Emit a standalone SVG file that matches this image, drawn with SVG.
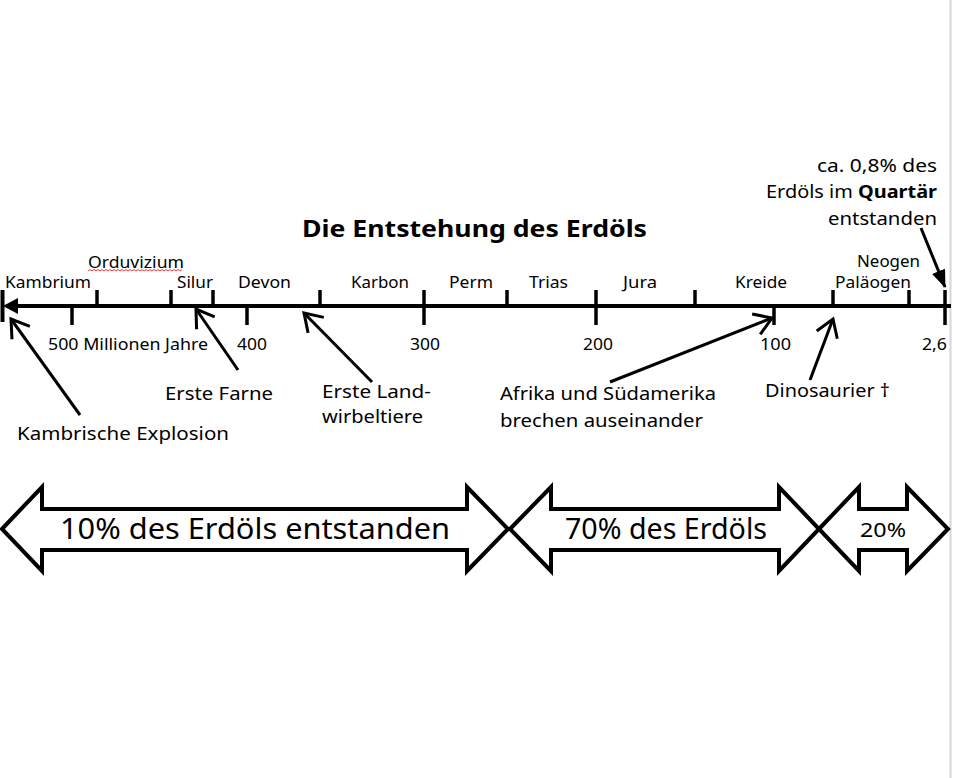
<svg xmlns="http://www.w3.org/2000/svg" width="953" height="778" viewBox="0 0 953 778">
<style>
text{font-family:"Noto Sans","Open Sans","Liberation Sans",sans-serif;fill:#000}
.era{font-size:16.5px}
.num{font-size:16.5px}
.ann{font-size:18.5px}
.title{font-size:23px;font-weight:700}
.big{font-size:29px}
.ax{stroke:#000;stroke-width:4;fill:none}
.tick{stroke:#000;stroke-width:3.5;fill:none}
.ptr{stroke:#000;stroke-width:3;fill:none}
.blk{fill:#fff;stroke:#000;stroke-width:4;stroke-linejoin:miter}
</style>
<defs>
<marker id="open" viewBox="0 0 22 26" refX="19" refY="13" markerWidth="22" markerHeight="26" markerUnits="userSpaceOnUse" orient="auto">
<path d="M2,2 L19,13 L2,24" fill="none" stroke="#000" stroke-width="3"/>
</marker>
<marker id="solid" viewBox="0 0 18 14" refX="17" refY="7" markerWidth="18" markerHeight="14" markerUnits="userSpaceOnUse" orient="auto">
<path d="M0,0 L18,7 L0,14 z" fill="#000"/>
</marker>
</defs>
<rect x="0" y="0" width="953" height="778" fill="#fff"/>
<line x1="950.5" y1="0" x2="950.5" y2="778" stroke="#d6d6da" stroke-width="2"/>

<g id="title">
<text class="title" x="302" y="237" textLength="345" lengthAdjust="spacingAndGlyphs">Die Entstehung des Erdöls</text>
</g>

<g id="timeline">
<line class="ax" x1="6" y1="306" x2="951" y2="306"/>
<line class="ax" x1="2.5" y1="290" x2="2.5" y2="322"/>
<polygon points="3,306 18,298 18,314" fill="#000"/>
<line class="tick" x1="97" y1="290" x2="97" y2="306"/>
<line class="tick" x1="171" y1="290" x2="171" y2="306"/>
<line class="tick" x1="213" y1="290" x2="213" y2="306"/>
<line class="tick" x1="320" y1="290" x2="320" y2="306"/>
<line class="tick" x1="424" y1="290" x2="424" y2="325"/>
<line class="tick" x1="507" y1="290" x2="507" y2="306"/>
<line class="tick" x1="596" y1="290" x2="596" y2="325"/>
<line class="tick" x1="695" y1="290" x2="695" y2="306"/>
<line class="tick" x1="833" y1="290" x2="833" y2="306"/>
<line class="tick" x1="909" y1="290" x2="909" y2="306"/>
<line class="tick" x1="945" y1="290" x2="945" y2="325"/>
<line class="tick" x1="72" y1="306" x2="72" y2="325"/>
<line class="tick" x1="247" y1="306" x2="247" y2="325"/>
<line class="tick" x1="774" y1="306" x2="774" y2="325"/>
</g>

<g id="eras">
<text class="era" x="88" y="268" textLength="96" lengthAdjust="spacingAndGlyphs">Orduvizium</text>
<path d="M88,271 l2,-1.5 l2,1.5 l2,-1.5 l2,1.5 l2,-1.5 l2,1.5 l2,-1.5 l2,1.5 l2,-1.5 l2,1.5 l2,-1.5 l2,1.5 l2,-1.5 l2,1.5 l2,-1.5 l2,1.5 l2,-1.5 l2,1.5 l2,-1.5 l2,1.5 l2,-1.5 l2,1.5 l2,-1.5 l2,1.5 l2,-1.5 l2,1.5 l2,-1.5 l2,1.5 l2,-1.5 l2,1.5 l2,-1.5 l2,1.5 l2,-1.5 l2,1.5 l2,-1.5 l2,1.5 l2,-1.5 l2,1.5 l2,-1.5 l2,1.5 l2,-1.5 l2,1.5 l2,-1.5 l2,1.5 l2,-1.5 l2,1.5 l2,-1.5" fill="none" stroke="#e03c3c" stroke-width="1"/>
<text class="era" x="5" y="288" textLength="86" lengthAdjust="spacingAndGlyphs">Kambrium</text>
<text class="era" x="177" y="288" textLength="36" lengthAdjust="spacingAndGlyphs">Silur</text>
<text class="era" x="238" y="288" textLength="53" lengthAdjust="spacingAndGlyphs">Devon</text>
<text class="era" x="351" y="288" textLength="58" lengthAdjust="spacingAndGlyphs">Karbon</text>
<text class="era" x="449" y="288" textLength="44" lengthAdjust="spacingAndGlyphs">Perm</text>
<text class="era" x="529" y="288" textLength="39" lengthAdjust="spacingAndGlyphs">Trias</text>
<text class="era" x="623" y="288" textLength="34" lengthAdjust="spacingAndGlyphs">Jura</text>
<text class="era" x="735" y="288" textLength="52" lengthAdjust="spacingAndGlyphs">Kreide</text>
<text class="era" x="857" y="267" textLength="63" lengthAdjust="spacingAndGlyphs">Neogen</text>
<text class="era" x="835" y="288" textLength="76" lengthAdjust="spacingAndGlyphs">Paläogen</text>
</g>

<g id="numbers">
<text class="num" x="48" y="350" textLength="160" lengthAdjust="spacingAndGlyphs">500 Millionen Jahre</text>
<text class="num" x="237" y="350" textLength="30" lengthAdjust="spacingAndGlyphs">400</text>
<text class="num" x="410" y="350" textLength="30" lengthAdjust="spacingAndGlyphs">300</text>
<text class="num" x="583" y="350" textLength="30" lengthAdjust="spacingAndGlyphs">200</text>
<text class="num" x="760" y="350" textLength="31" lengthAdjust="spacingAndGlyphs">100</text>
<text class="num" x="922" y="350" textLength="25" lengthAdjust="spacingAndGlyphs">2,6</text>
</g>

<g id="connectors">
<line class="ptr" x1="80" y1="415" x2="11" y2="319" marker-end="url(#open)"/>
<line class="ptr" x1="238" y1="370" x2="196" y2="309" marker-end="url(#open)"/>
<line class="ptr" x1="372" y1="382" x2="304" y2="313" marker-end="url(#open)"/>
<line class="ptr" x1="610" y1="382" x2="772" y2="318" marker-end="url(#open)"/>
<line class="ptr" x1="810" y1="380" x2="833" y2="319" marker-end="url(#open)"/>
<line class="ptr" x1="921" y1="228" x2="945" y2="287" marker-end="url(#solid)"/>
</g>

<g id="ann-kambrische">
<text class="ann" x="17" y="440" textLength="212" lengthAdjust="spacingAndGlyphs">Kambrische Explosion</text>
</g>
<g id="ann-farne">
<text class="ann" x="165" y="400" textLength="108" lengthAdjust="spacingAndGlyphs">Erste Farne</text>
</g>
<g id="ann-landwirbeltiere">
<text class="ann" x="322" y="398" textLength="109" lengthAdjust="spacingAndGlyphs">Erste Land-</text>
<text class="ann" x="322" y="423" textLength="101" lengthAdjust="spacingAndGlyphs">wirbeltiere</text>
</g>
<g id="ann-afrika">
<text class="ann" x="500" y="400" textLength="216" lengthAdjust="spacingAndGlyphs">Afrika und Südamerika</text>
<text class="ann" x="500" y="427" textLength="203" lengthAdjust="spacingAndGlyphs">brechen auseinander</text>
</g>
<g id="ann-dino">
<text class="ann" x="765" y="397" textLength="125" lengthAdjust="spacingAndGlyphs">Dinosaurier †</text>
</g>
<g id="ann-quartaer">
<text class="ann" x="817" y="172" textLength="120" lengthAdjust="spacingAndGlyphs">ca. 0,8% des</text>
<text class="ann" x="766" y="198" textLength="171" lengthAdjust="spacingAndGlyphs">Erdöls im <tspan font-weight="700">Quartär</tspan></text>
<text class="ann" x="828" y="225" textLength="109" lengthAdjust="spacingAndGlyphs">entstanden</text>
</g>

<g id="arrow-10">
<polygon class="blk" points="2,529 42,487 42,509 467,509 467,487 508,529 467,571 467,550 42,550 42,571"/>
<text class="big" x="60" y="539" textLength="390" lengthAdjust="spacingAndGlyphs">10% des Erdöls entstanden</text>
</g>
<g id="arrow-70">
<polygon class="blk" points="510,529 551,487 551,509 779,509 779,487 819,529 779,571 779,550 551,550 551,571"/>
<text class="big" x="565" y="539" textLength="202" lengthAdjust="spacingAndGlyphs">70% des Erdöls</text>
</g>
<g id="arrow-20">
<polygon class="blk" points="819,529 859,487 859,509 907,509 907,487 948,529 907,571 907,550 859,550 859,571"/>
<text x="860" y="537" style="font-size:19px" textLength="46" lengthAdjust="spacingAndGlyphs">20%</text>
</g>
</svg>
